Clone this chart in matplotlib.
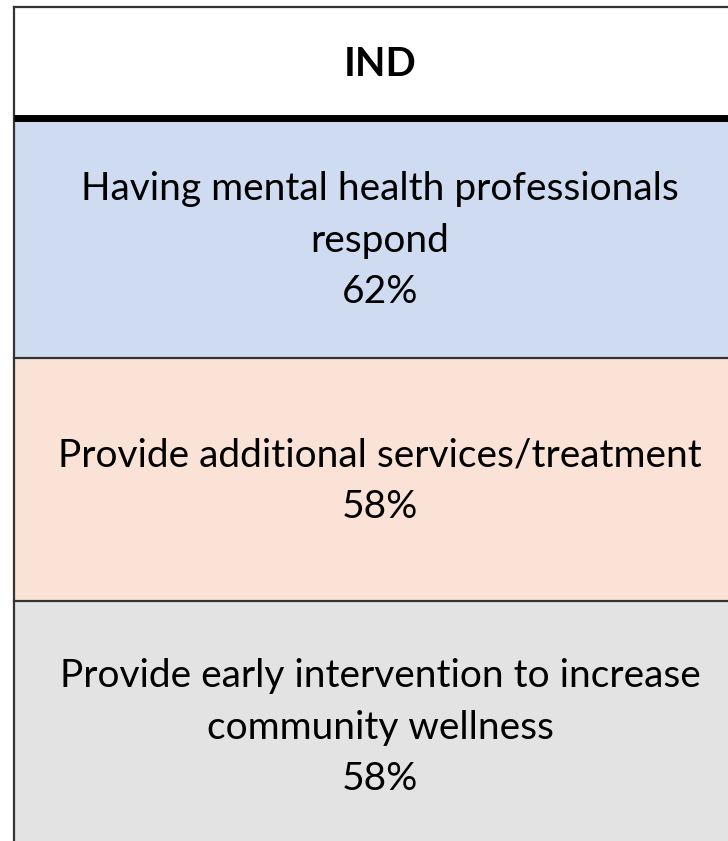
import matplotlib.pyplot as plt
from matplotlib.patches import Rectangle

# table content
header = "IND"
labels = [
    "Having mental health professionals\nrespond",
    "Provide additional services/treatment",
    "Provide early intervention to increase\ncommunity wellness",
]
values = [62, 58, 58]
row_colors = ["#CFDBF1", "#FAE3D6", "#E3E3E3"]

plt.rcParams['font.family'] = ['Lato', 'DejaVu Sans']

fig = plt.figure(figsize=(7.28, 8.41), dpi=100)
ax = fig.add_axes([0, 0, 1, 1])
ax.set_xlim(0, 728)
ax.set_ylim(841, 0)
ax.axis("off")

# cell geometry in pixels
left, right = 14, 746
head_top, head_bot = 7, 116
row_edges = [119, 358, 601, 850]
xc = 380

# header cell
ax.add_patch(Rectangle((left, head_top), right - left, head_bot - head_top,
                       facecolor="white", edgecolor="none"))
ax.text(xc, 64, header, ha="center", va="center",
        fontsize=28.5, fontweight="bold", color="black")

# body cells
for i, (lab, val) in enumerate(zip(labels, values)):
    y0, y1 = row_edges[i], row_edges[i + 1]
    ax.add_patch(Rectangle((left, y0), right - left, y1 - y0,
                           facecolor=row_colors[i], edgecolor="none"))
    ax.text(xc, (y0 + y1) / 2 + 2, f"{lab}\n{val}%", ha="center", va="center",
            fontsize=28, color="black", linespacing=1.52)
    if i > 0:
        ax.plot([left, right], [y0, y0], color="#333333", lw=1.6)

# borders
ax.plot([left, right], [head_top, head_top], color="#333333", lw=1.6)
ax.plot([left, left], [head_top, 841], color="#333333", lw=1.6)
ax.plot([left, right], [117.5, 117.5], color="black", lw=5, solid_capstyle="butt")

fig.savefig("out.png", dpi=100)
